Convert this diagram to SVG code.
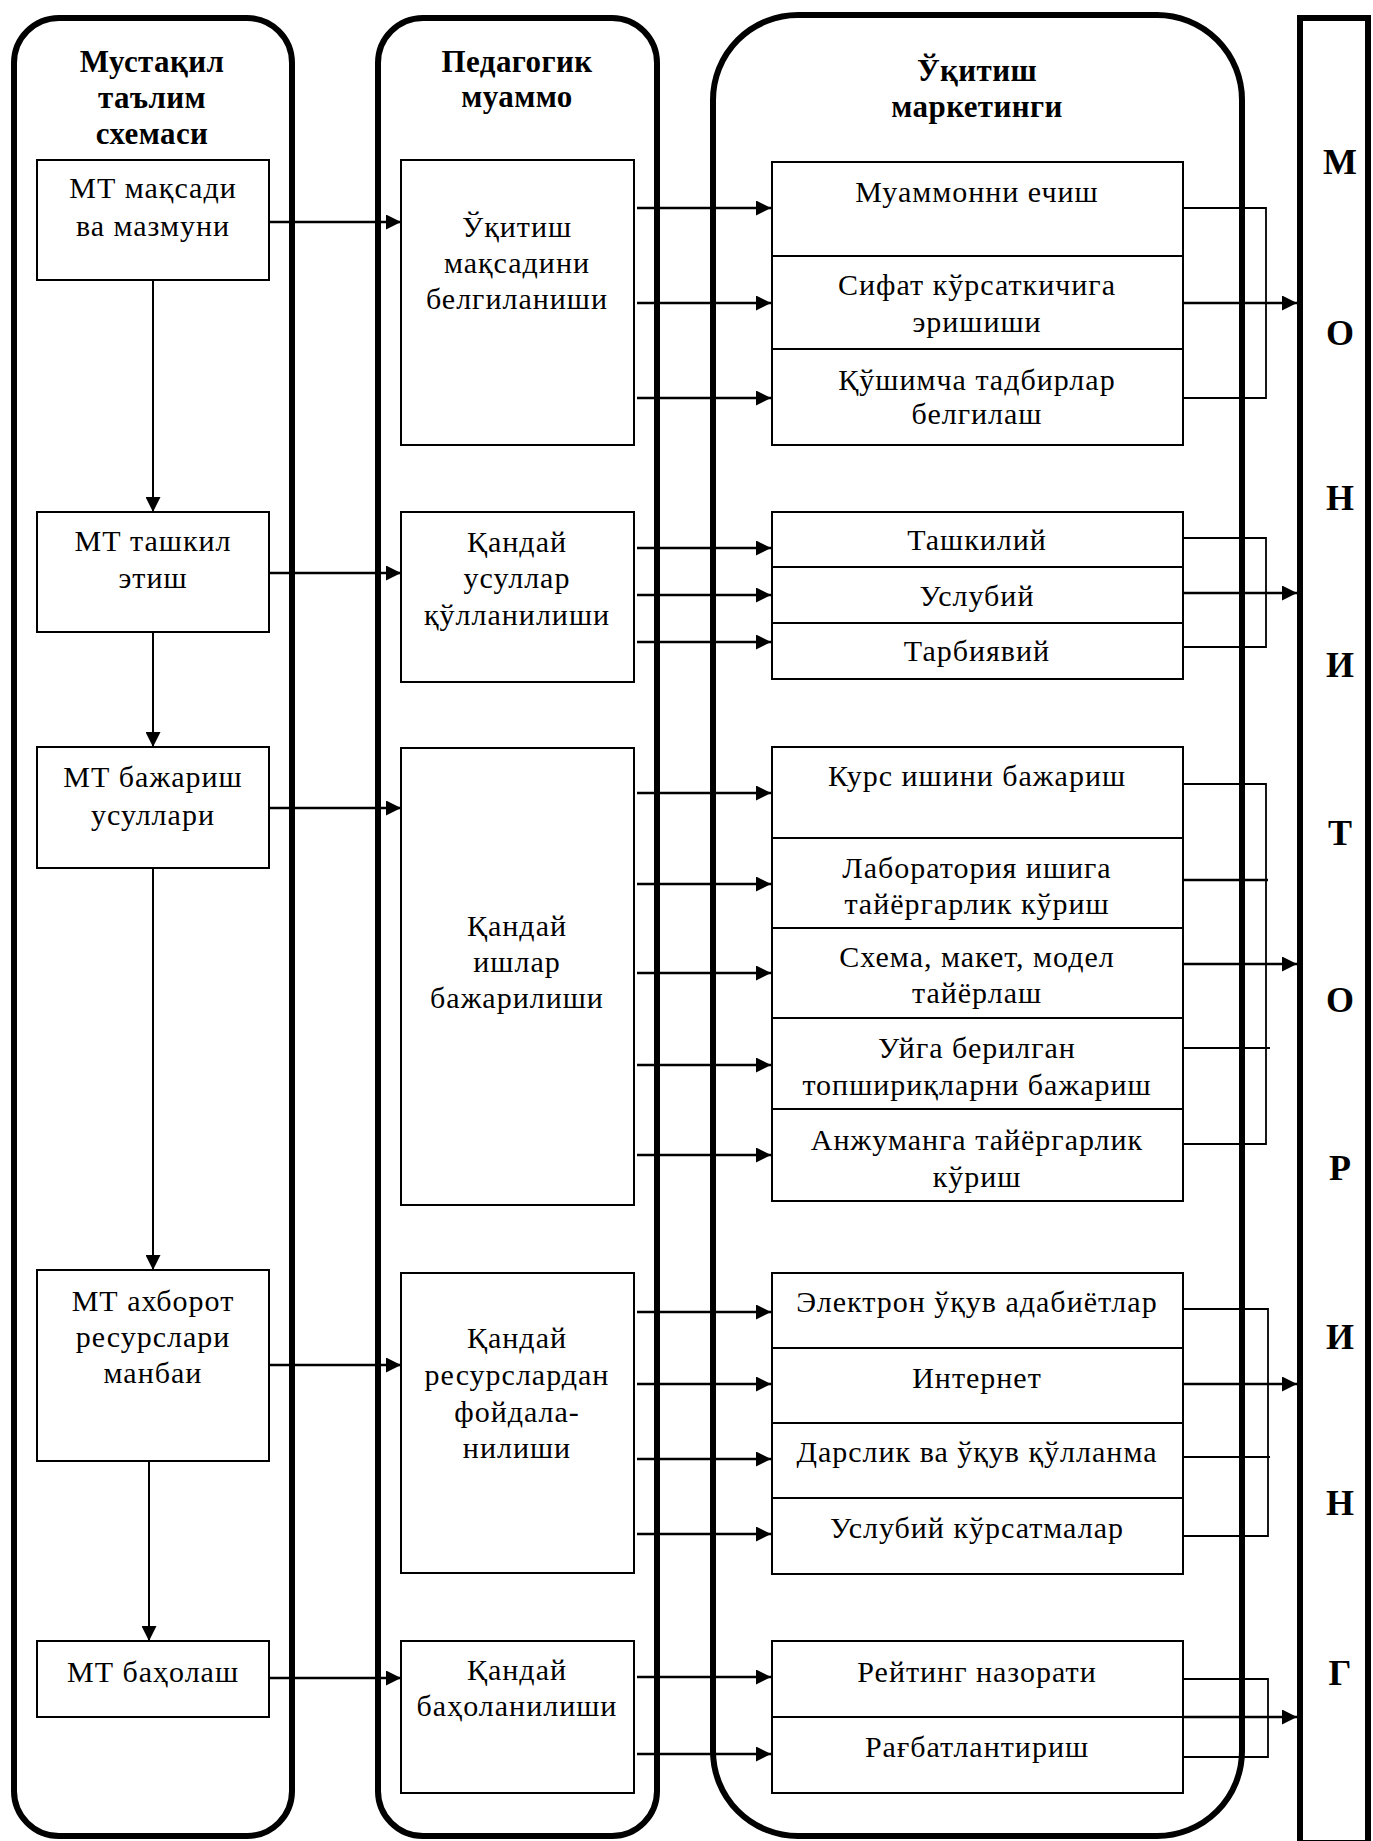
<svg xmlns="http://www.w3.org/2000/svg" width="1373" height="1841" viewBox="0 0 1373 1841">
<style>
.lane{fill:none;stroke:#000;stroke-width:6}
.box{fill:#fff;stroke:#000;stroke-width:2}
.t{font-family:"Liberation Serif","Times New Roman",serif;font-size:30px;letter-spacing:1px;text-anchor:middle;fill:#000}
.h{font-family:"Liberation Serif","Times New Roman",serif;font-size:31px;font-weight:bold;letter-spacing:0.4px;text-anchor:middle;fill:#000}
.m{font-family:"Liberation Serif","Times New Roman",serif;font-size:36px;font-weight:bold;text-anchor:middle;fill:#000}
.a{stroke:#000;stroke-width:2.6;fill:none;marker-end:url(#ah)}
.v{stroke:#000;stroke-width:2;fill:none;marker-end:url(#ah)}
.b{stroke:#000;stroke-width:1.8;fill:none}
</style>
<defs>
<marker id="ah" viewBox="0 0 15 15" refX="15" refY="7.5" markerWidth="15" markerHeight="15" markerUnits="userSpaceOnUse" orient="auto"><path d="M0,0 L15,7.5 L0,15 z" fill="#000"/></marker>
</defs>
<rect width="1373" height="1841" fill="#fff"/>

<g id="lane-mt">
<rect class="lane" x="14" y="18" width="278" height="1818" rx="45" ry="45"/>
<text class="h" x="152" y="72">Мустақил</text>
<text class="h" x="152" y="108">таълим</text>
<text class="h" x="152" y="144">схемаси</text>
</g>
<g id="lane-ped">
<rect class="lane" x="378" y="18" width="279" height="1818" rx="45" ry="45"/>
<text class="h" x="517" y="72">Педагогик</text>
<text class="h" x="517" y="107">муаммо</text>
</g>
<g id="lane-mark">
<rect class="lane" x="713" y="15" width="529" height="1821" rx="85" ry="85"/>
<text class="h" x="977" y="81">Ўқитиш</text>
<text class="h" x="977" y="117">маркетинги</text>
</g>
<g id="monitoring">
<rect class="lane" x="1300" y="18" width="68" height="1825"/>
<text class="m" x="1340" y="174">М</text>
<text class="m" x="1340" y="345">О</text>
<text class="m" x="1340" y="510">Н</text>
<text class="m" x="1340" y="677">И</text>
<text class="m" x="1340" y="845">Т</text>
<text class="m" x="1340" y="1012">О</text>
<text class="m" x="1340" y="1180">Р</text>
<text class="m" x="1340" y="1349">И</text>
<text class="m" x="1340" y="1515">Н</text>
<text class="m" x="1340" y="1685">Г</text>
</g>

<g id="connectors">
<line class="v" x1="153" y1="280" x2="153" y2="512"/>
<line class="v" x1="153" y1="632" x2="153" y2="747"/>
<line class="v" x1="153" y1="868" x2="153" y2="1270"/>
<line class="v" x1="149" y1="1461" x2="149" y2="1641"/>

<line class="a" x1="269" y1="222" x2="401" y2="222"/>
<line class="a" x1="269" y1="573" x2="401" y2="573"/>
<line class="a" x1="269" y1="808" x2="401" y2="808"/>
<line class="a" x1="269" y1="1365" x2="401" y2="1365"/>
<line class="a" x1="269" y1="1678" x2="401" y2="1678"/>

<line class="a" x1="637" y1="208" x2="771" y2="208"/>
<line class="a" x1="637" y1="303" x2="771" y2="303"/>
<line class="a" x1="637" y1="398" x2="771" y2="398"/>
<line class="a" x1="637" y1="548" x2="771" y2="548"/>
<line class="a" x1="637" y1="595" x2="771" y2="595"/>
<line class="a" x1="637" y1="642" x2="771" y2="642"/>
<line class="a" x1="637" y1="793" x2="771" y2="793"/>
<line class="a" x1="637" y1="884" x2="771" y2="884"/>
<line class="a" x1="637" y1="973" x2="771" y2="973"/>
<line class="a" x1="637" y1="1065" x2="771" y2="1065"/>
<line class="a" x1="637" y1="1155" x2="771" y2="1155"/>
<line class="a" x1="637" y1="1312" x2="771" y2="1312"/>
<line class="a" x1="637" y1="1384" x2="771" y2="1384"/>
<line class="a" x1="637" y1="1459" x2="771" y2="1459"/>
<line class="a" x1="637" y1="1534" x2="771" y2="1534"/>
<line class="a" x1="637" y1="1677" x2="771" y2="1677"/>
<line class="a" x1="637" y1="1754" x2="771" y2="1754"/>

<polyline class="b" points="1184,208 1266,208 1266,398 1184,398"/>
<line class="a" x1="1184" y1="303" x2="1297" y2="303"/>
<polyline class="b" points="1184,538 1266,538 1266,647 1184,647"/>
<line class="a" x1="1184" y1="593" x2="1297" y2="593"/>
<polyline class="b" points="1184,784 1266,784 1266,1144 1184,1144"/>
<line class="b" x1="1184" y1="880" x2="1268" y2="880" style="stroke-width:2.4"/>
<line class="b" x1="1184" y1="1048" x2="1270" y2="1048"/>
<line class="a" x1="1184" y1="964" x2="1297" y2="964"/>
<polyline class="b" points="1184,1309 1268,1309 1268,1536 1184,1536"/>
<line class="b" x1="1184" y1="1457" x2="1270" y2="1457"/>
<line class="a" x1="1184" y1="1384" x2="1297" y2="1384"/>
<polyline class="b" points="1184,1679 1268,1679 1268,1757 1184,1757"/>
<line class="a" x1="1184" y1="1717" x2="1297" y2="1717"/>
</g>

<g id="mt-goal">
<rect class="box" x="37" y="160" width="232" height="120"/>
<text class="t" x="153" y="198">МТ мақсади</text>
<text class="t" x="153" y="236">ва мазмуни</text>
</g>
<g id="mt-org">
<rect class="box" x="37" y="512" width="232" height="120"/>
<text class="t" x="153" y="551">МТ ташкил</text>
<text class="t" x="153" y="588">этиш</text>
</g>
<g id="mt-methods">
<rect class="box" x="37" y="747" width="232" height="121"/>
<text class="t" x="153" y="787">МТ бажариш</text>
<text class="t" x="153" y="825">усуллари</text>
</g>
<g id="mt-resources">
<rect class="box" x="37" y="1270" width="232" height="191"/>
<text class="t" x="153" y="1311">МТ ахборот</text>
<text class="t" x="153" y="1347">ресурслари</text>
<text class="t" x="153" y="1383">манбаи</text>
</g>
<g id="mt-eval">
<rect class="box" x="37" y="1641" width="232" height="76"/>
<text class="t" x="153" y="1682">МТ баҳолаш</text>
</g>

<g id="p-goal">
<rect class="box" x="401" y="160" width="233" height="285"/>
<text class="t" x="517" y="237">Ўқитиш</text>
<text class="t" x="517" y="273">мақсадини</text>
<text class="t" x="517" y="309">белгиланиши</text>
</g>
<g id="p-methods">
<rect class="box" x="401" y="512" width="233" height="170"/>
<text class="t" x="517" y="552">Қандай</text>
<text class="t" x="517" y="588">усуллар</text>
<text class="t" x="517" y="625">қўлланилиши</text>
</g>
<g id="p-works">
<rect class="box" x="401" y="748" width="233" height="457"/>
<text class="t" x="517" y="936">Қандай</text>
<text class="t" x="517" y="972">ишлар</text>
<text class="t" x="517" y="1008">бажарилиши</text>
</g>
<g id="p-resources">
<rect class="box" x="401" y="1273" width="233" height="300"/>
<text class="t" x="517" y="1348">Қандай</text>
<text class="t" x="517" y="1385">ресурслардан</text>
<text class="t" x="517" y="1422">фойдала-</text>
<text class="t" x="517" y="1458">нилиши</text>
</g>
<g id="p-eval">
<rect class="box" x="401" y="1641" width="233" height="152"/>
<text class="t" x="517" y="1680">Қандай</text>
<text class="t" x="517" y="1716">баҳоланилиши</text>
</g>

<g id="r-problem">
<rect class="box" x="772" y="162" width="411" height="94"/>
<text class="t" x="977" y="202">Муаммонни ечиш</text>
</g>
<g id="r-quality">
<rect class="box" x="772" y="256" width="411" height="93"/>
<text class="t" x="977" y="295">Сифат кўрсаткичига</text>
<text class="t" x="977" y="332">эришиши</text>
</g>
<g id="r-extra">
<rect class="box" x="772" y="349" width="411" height="96"/>
<text class="t" x="977" y="390">Қўшимча тадбирлар</text>
<text class="t" x="977" y="424">белгилаш</text>
</g>

<g id="r-org">
<rect class="box" x="772" y="512" width="411" height="55"/>
<text class="t" x="977" y="550">Ташкилий</text>
</g>
<g id="r-method">
<rect class="box" x="772" y="567" width="411" height="56"/>
<text class="t" x="977" y="606">Услубий</text>
</g>
<g id="r-educ">
<rect class="box" x="772" y="623" width="411" height="56"/>
<text class="t" x="977" y="661">Тарбиявий</text>
</g>

<g id="r-course">
<rect class="box" x="772" y="747" width="411" height="91"/>
<text class="t" x="977" y="786">Курс ишини бажариш</text>
</g>
<g id="r-lab">
<rect class="box" x="772" y="838" width="411" height="90"/>
<text class="t" x="977" y="878">Лаборатория ишига</text>
<text class="t" x="977" y="914">тайёргарлик кўриш</text>
</g>
<g id="r-scheme">
<rect class="box" x="772" y="928" width="411" height="90"/>
<text class="t" x="977" y="967">Схема, макет, модел</text>
<text class="t" x="977" y="1003">тайёрлаш</text>
</g>
<g id="r-home">
<rect class="box" x="772" y="1018" width="411" height="91"/>
<text class="t" x="977" y="1058">Уйга берилган</text>
<text class="t" x="977" y="1095">топшириқларни бажариш</text>
</g>
<g id="r-conf">
<rect class="box" x="772" y="1109" width="411" height="92"/>
<text class="t" x="977" y="1150">Анжуманга тайёргарлик</text>
<text class="t" x="977" y="1187">кўриш</text>
</g>

<g id="r-elec">
<rect class="box" x="772" y="1273" width="411" height="75"/>
<text class="t" x="977" y="1312">Электрон ўқув адабиётлар</text>
</g>
<g id="r-inet">
<rect class="box" x="772" y="1348" width="411" height="75"/>
<text class="t" x="977" y="1388">Интернет</text>
</g>
<g id="r-book">
<rect class="box" x="772" y="1423" width="411" height="75"/>
<text class="t" x="977" y="1462">Дарслик ва ўқув қўлланма</text>
</g>
<g id="r-guide">
<rect class="box" x="772" y="1498" width="411" height="76"/>
<text class="t" x="977" y="1538">Услубий кўрсатмалар</text>
</g>

<g id="r-rating">
<rect class="box" x="772" y="1641" width="411" height="76"/>
<text class="t" x="977" y="1682">Рейтинг назорати</text>
</g>
<g id="r-incent">
<rect class="box" x="772" y="1717" width="411" height="76"/>
<text class="t" x="977" y="1757">Рағбатлантириш</text>
</g>
</svg>
